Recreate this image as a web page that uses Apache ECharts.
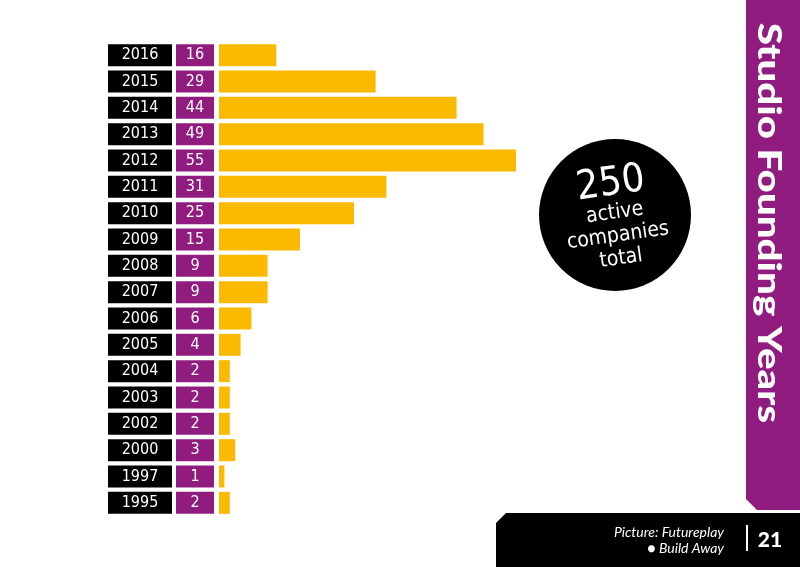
<!DOCTYPE html>
<html>
<head>
<meta charset="utf-8">
<script src="https://cdn.jsdelivr.net/npm/echarts@6/dist/echarts.min.js"></script>
<style>
  html, body { margin: 0; padding: 0; background: #fff; }
  #main { width: 800px; height: 567px; }
</style>
</head>
<body>
<div id="main"></div>
<script>
// founding years, newest first
var years = ['2016', '2015', '2014', '2013', '2012', '2011', '2010', '2009', '2008',
             '2007', '2006', '2005', '2004', '2003', '2002', '2000', '1997', '1995'];
// number printed in the purple box
var counts = [16, 29, 44, 49, 55, 31, 25, 15, 9, 9, 6, 4, 2, 2, 2, 3, 1, 2];
// drawn bar length (2016 bar in the picture is shorter than its count)
var barLengths = [10.6, 29, 44, 49, 55, 31, 25, 15, 9, 9, 6, 4, 2, 2, 2, 3, 1, 2];

var totalText = '250';
var narrow = "'Liberation Sans Narrow', 'DejaVu Sans Condensed', sans-serif";

var myChart = echarts.init(document.getElementById('main'));

var option = {
    backgroundColor: '#fff',
    animation: false,
    grid: {
        left: 219,
        width: 540,
        top: 42,
        height: 474
    },
    xAxis: {
        type: 'value',
        min: 0,
        max: 100,
        show: false
    },
    yAxis: {
        type: 'category',
        inverse: true,
        data: years,
        axisLine: { show: false },
        axisTick: { show: false },
        axisLabel: {
            margin: 5,
            formatter: function (value, index) {
                return '{y|' + value + '}{s|}{v|' + counts[index] + '}';
            },
            rich: {
                y: {
                    width: 64, height: 22, align: 'center',
                    backgroundColor: '#000', color: '#fff',
                    fontFamily: narrow, fontSize: 16
                },
                s: { width: 4, height: 22 },
                v: {
                    width: 38, height: 22, align: 'center',
                    backgroundColor: '#911C80', color: '#fff',
                    fontFamily: narrow, fontSize: 16
                }
            }
        }
    },
    series: [
        {
            type: 'bar',
            data: barLengths,
            barWidth: 22,
            itemStyle: { color: '#FBB900' }
        }
    ],
    graphic: [
        // purple side band
        {
            type: 'polygon',
            shape: { points: [[746, 0], [800, 0], [800, 510], [757, 510], [746, 499]] },
            style: { fill: '#911C80' }
        },
        {
            type: 'text',
            x: 768, y: 223,
            rotation: -Math.PI / 2,
            scaleX: 1.26,
            style: {
                text: 'Studio Founding Years',
                fill: '#fff',
                font: '900 32px Lato, "DejaVu Sans", sans-serif',
                align: 'center',
                verticalAlign: 'middle'
            }
        },
        // total circle
        {
            type: 'circle',
            shape: { cx: 615, cy: 215, r: 76 },
            style: { fill: '#000' }
        },
        {
            type: 'group',
            x: 615, y: 215,
            rotation: 0.14,
            children: [
                { type: 'text', x: 0, y: -31, style: { text: totalText, fill: '#fff', font: '40px ' + narrow, align: 'center', verticalAlign: 'middle' } },
                { type: 'text', x: 0, y: -2, style: { text: 'active', fill: '#fff', font: '21px ' + narrow, align: 'center', verticalAlign: 'middle' } },
                { type: 'text', x: 0, y: 21, style: { text: 'companies', fill: '#fff', font: '21px ' + narrow, align: 'center', verticalAlign: 'middle' } },
                { type: 'text', x: 0, y: 44, style: { text: 'total', fill: '#fff', font: '21px ' + narrow, align: 'center', verticalAlign: 'middle' } }
            ]
        },
        // footer
        {
            type: 'polygon',
            shape: { points: [[506, 513], [800, 513], [800, 567], [496, 567], [496, 523]] },
            style: { fill: '#000' }
        },
        {
            type: 'text',
            x: 724, y: 532,
            style: { text: 'Picture: Futureplay', fill: '#fff', font: 'italic 14px Lato, sans-serif', align: 'right', verticalAlign: 'middle' }
        },
        {
            type: 'text',
            x: 724, y: 548,
            style: { text: '\u25CF Build Away', fill: '#fff', font: 'italic 14px Lato, sans-serif', align: 'right', verticalAlign: 'middle' }
        },
        {
            type: 'rect',
            shape: { x: 746, y: 525, width: 2, height: 26 },
            style: { fill: '#fff' }
        },
        {
            type: 'text',
            x: 770, y: 540,
            style: { text: '21', fill: '#fff', font: '900 21px Lato, sans-serif', align: 'center', verticalAlign: 'middle' }
        }
    ]
};

myChart.setOption(option);
</script>
</body>
</html>
